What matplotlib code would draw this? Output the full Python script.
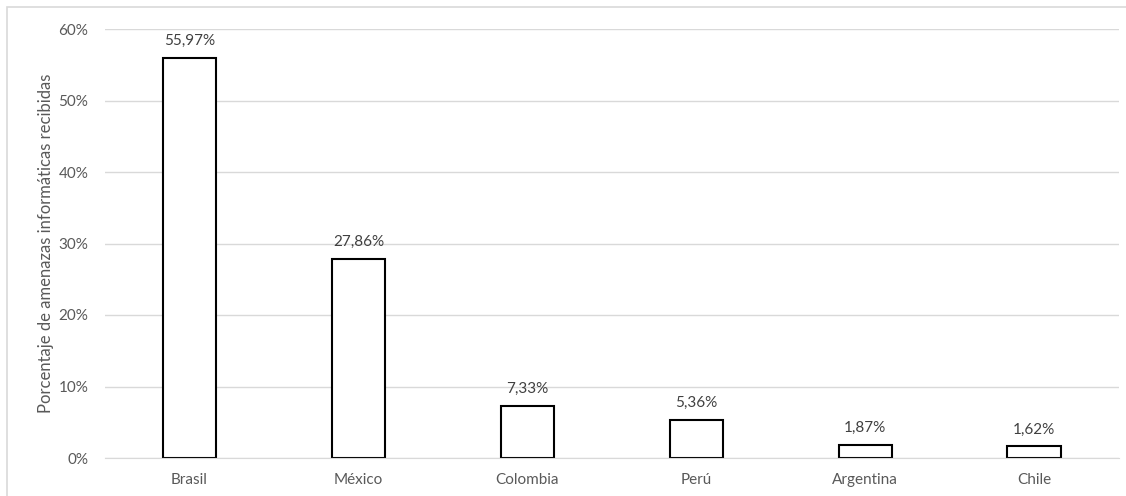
import matplotlib
matplotlib.use("Agg")
import matplotlib.pyplot as plt
from matplotlib.patches import Rectangle

# donnees
paises = ["Brasil", "México", "Colombia", "Perú", "Argentina", "Chile"]
valores = [55.97, 27.86, 7.33, 5.36, 1.87, 1.62]
etiquetas = ["55,97%", "27,86%", "7,33%", "5,36%", "1,87%", "1,62%"]
yticks = [0, 10, 20, 30, 40, 50, 60]

plt.rcParams['font.family'] = ['Lato', 'DejaVu Sans']
gris_txt = '#595959'
gris_lin = '#d9d9d9'

W, H = 1126, 496
fig = plt.figure(figsize=(W / 100, H / 100), dpi=100)
fig.patch.set_facecolor('white')

# zone du graphe (en pixels)
left, right, bottom, top = 105, 1118.5, 458, 29
ax = fig.add_axes([left / W, 1 - bottom / H, (right - left) / W, (bottom - top) / H])

x = range(len(paises))
ax.bar(x, valores, width=0.315, color='white', edgecolor='black', linewidth=1.5, zorder=2)
for i, v in enumerate(valores):
    ax.text(i, v + 1.4, etiquetas[i], ha='center', va='bottom', fontsize=11, color='#404040')

ax.set_xlim(-0.5, len(paises) - 0.5)
ax.set_ylim(0, 60)
ax.set_yticks(yticks)
ax.set_yticklabels([f"{t}%" for t in yticks], fontsize=11, color=gris_txt)
ax.set_xticks(list(x))
ax.set_xticklabels(paises, fontsize=11, color=gris_txt)
ax.tick_params(axis='x', length=0, pad=11)
ax.tick_params(axis='y', length=0, pad=12)
ax.grid(axis='y', color=gris_lin, linewidth=1, zorder=0)
ax.set_axisbelow(True)
for s in ['top', 'right', 'left']:
    ax.spines[s].set_visible(False)
ax.spines['bottom'].set_color(gris_lin)
ax.spines['bottom'].set_zorder(3)
ax.set_ylabel("Porcentaje de amenazas informáticas recibidas", fontsize=12, color=gris_txt, labelpad=3)

# cadre de la figure
fig.patches.append(Rectangle((7 / W, -0.1), 1.2, 1 - 7 / H + 0.1, transform=fig.transFigure,
                             fill=False, edgecolor=gris_lin, linewidth=1.2))

fig.savefig("out.png", dpi=100)
